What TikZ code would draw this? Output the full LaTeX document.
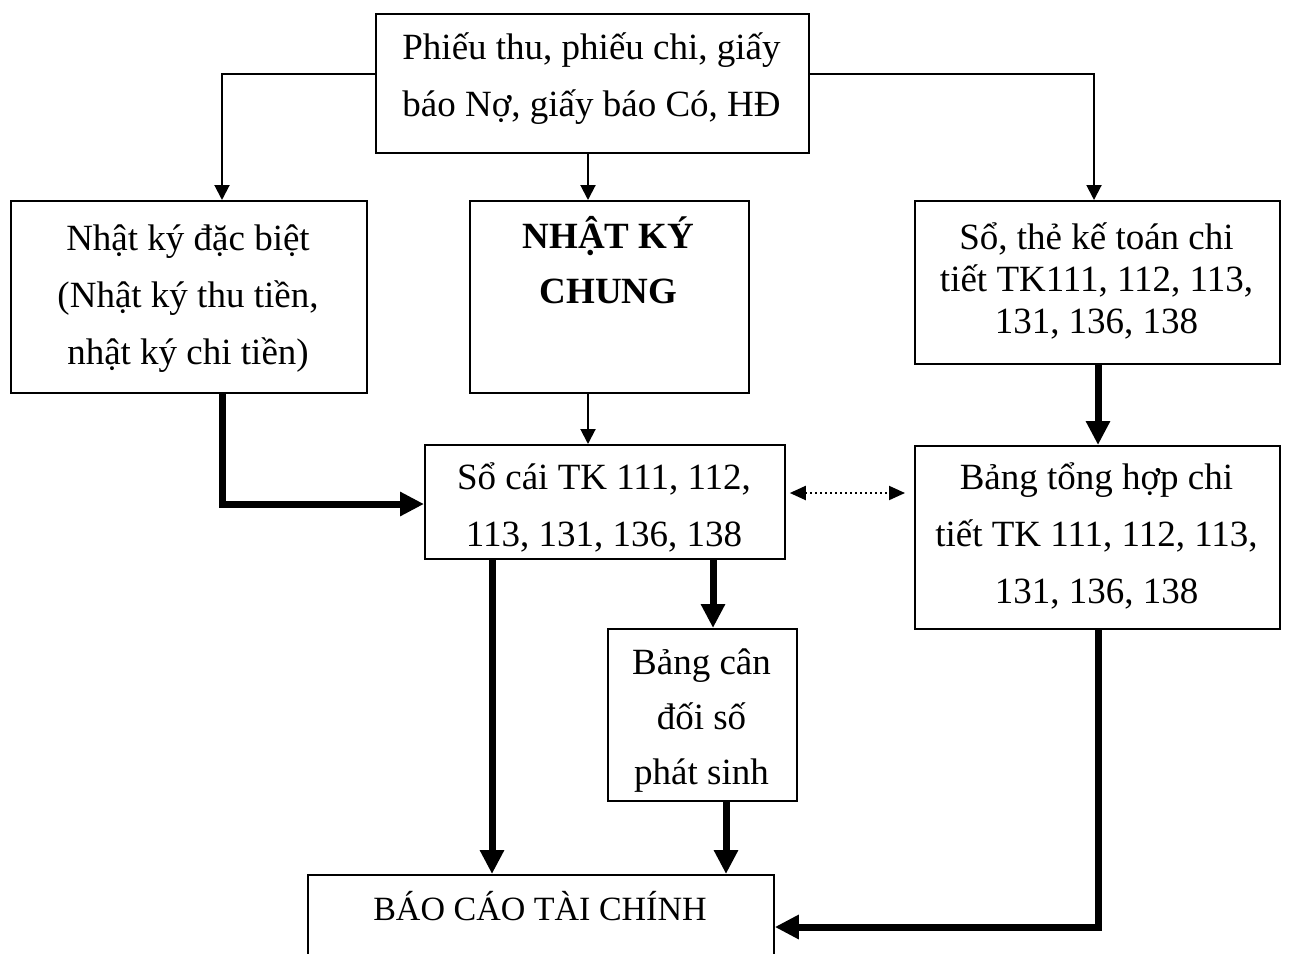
\documentclass[tikz,border=0pt]{standalone}
\usepackage{fontspec}
\setmainfont{Liberation Serif}
\usetikzlibrary{arrows.meta}

\begin{document}
\begin{tikzpicture}[x=1pt,y=-1pt,
  box/.style={draw, line width=1.8pt, inner sep=0pt, anchor=north west},
  txt/.style={anchor=base, inner sep=0pt, font=\fontsize{37pt}{57pt}\selectfont},
  flow/.style={line width=2pt, -{Triangle[length=15pt,width=15pt]}},
  heavy/.style={line width=7pt, -{Triangle[length=24pt,width=23pt]}},
  dots/.style={line width=2pt, dash pattern=on 2pt off 3pt,
    {Triangle[length=16pt,width=14pt]}-{Triangle[length=16pt,width=14pt]}}
]
\useasboundingbox (0,0) rectangle (1292,953);
\clip (0,0) rectangle (1292,953);

% boxes
\node[box, minimum width=433pt, minimum height=139pt] (src)  at (375,13)  {};
\node[box, minimum width=356pt, minimum height=192pt] (nkdb) at (10,200)  {};
\node[box, minimum width=279pt, minimum height=192pt] (nkc)  at (469,200) {};
\node[box, minimum width=365pt, minimum height=163pt] (stk)  at (914,200) {};
\node[box, minimum width=360pt, minimum height=114pt] (soc)  at (424,444) {};
\node[box, minimum width=365pt, minimum height=183pt] (bth)  at (914,445) {};
\node[box, minimum width=189pt, minimum height=172pt] (bcd)  at (607,628) {};
\node[box, minimum width=466pt, minimum height=130pt] (bctc) at (307,874) {};

% box texts
\node[txt] (src-t) at (591.5,59) {\begin{tabular}[t]{@{}c@{}}Phiếu thu, phiếu chi, giấy\\ báo Nợ, giấy báo Có, HĐ\end{tabular}};
\node[txt] (nkdb-t) at (188,250) {\begin{tabular}[t]{@{}c@{}}Nhật ký đặc biệt\\ (Nhật ký thu tiền,\\ nhật ký chi tiền)\end{tabular}};
\node[txt, font=\fontsize{37pt}{55pt}\selectfont\bfseries] (nkc-t) at (608.5,248) {\begin{tabular}[t]{@{}c@{}}NHẬT KÝ\\ CHUNG\end{tabular}};
\node[txt, font=\fontsize{37pt}{42pt}\selectfont] (stk-t) at (1096.5,249) {\begin{tabular}[t]{@{}c@{}}Sổ, thẻ kế toán chi\\ tiết TK111, 112, 113,\\ 131, 136, 138\end{tabular}};
\node[txt] (soc-t) at (604,489) {\begin{tabular}[t]{@{}c@{}}Sổ cái TK 111, 112,\\ 113, 131, 136, 138\end{tabular}};
\node[txt] (bth-t) at (1096.5,489) {\begin{tabular}[t]{@{}c@{}}Bảng tổng hợp chi\\ tiết TK 111, 112, 113,\\ 131, 136, 138\end{tabular}};
\node[txt, font=\fontsize{37pt}{55pt}\selectfont] (bcd-t) at (701.5,674) {\begin{tabular}[t]{@{}c@{}}Bảng cân\\ đối số\\ phát sinh\end{tabular}};
\node[txt, font=\fontsize{34pt}{40pt}\selectfont] (bctc-t) at (540,920) {BÁO CÁO TÀI CHÍNH};

% routing points
\coordinate (splitL) at (222,74);
\coordinate (splitR) at (1094,74);
\coordinate (midcol) at (588,0);
\coordinate (jL) at (222,504);
\coordinate (jR) at (1098,927);
\coordinate (dotrow) at (0,493);
\coordinate (colA) at (492,0);
\coordinate (colB) at (713,0);
\coordinate (colC) at (726,0);

% thin connectors from the source documents
\draw[flow] (src.west |- splitL) -- (splitL) -- (splitL |- nkdb.north);
\draw[flow] (src.east |- splitR) -- (splitR) -- (splitR |- stk.north);
\draw[flow] (midcol |- src.south) -- (midcol |- nkc.north);
\draw[flow] (midcol |- nkc.south) -- (midcol |- soc.north);

% heavy connectors
\draw[heavy] (splitL |- nkdb.south) -- (jL) -- (soc.west |- jL);
\draw[heavy] (jR |- stk.south) -- (jR |- bth.north);
\draw[heavy] (colA |- soc.south) -- (colA |- bctc.north);
\draw[heavy] (colB |- soc.south) -- (colB |- bcd.north);
\draw[heavy] (colC |- bcd.south) -- (colC |- bctc.north);
\draw[heavy] (jR |- bth.south) -- (jR) -- (bctc.east |- jR);

% reconciliation between ledger and detail summary
\draw[dots, shorten <=4pt, shorten >=9pt] (soc.east |- dotrow) -- (bth.west |- dotrow);
\end{tikzpicture}
\end{document}
